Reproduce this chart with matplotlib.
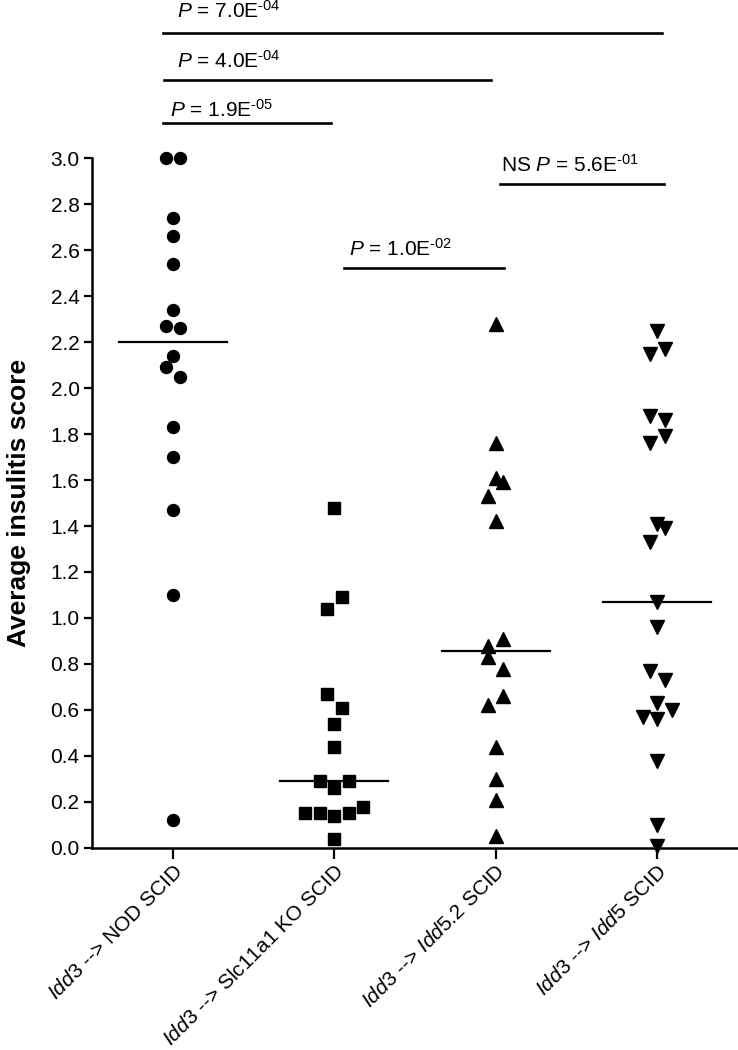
import numpy as np
import matplotlib
matplotlib.use("Agg")
import matplotlib.pyplot as plt

# Fonts (Arial-like)
plt.rcParams['font.family'] = ['Liberation Sans', 'DejaVu Sans']
plt.rcParams['mathtext.fontset'] = 'custom'
plt.rcParams['mathtext.rm'] = 'Liberation Sans'
plt.rcParams['mathtext.it'] = 'Liberation Sans:italic'
plt.rcParams['mathtext.bf'] = 'Liberation Sans:bold'

# ------------------------------------------------
# Data: average insulitis score per mouse
groups = [r"$\it{Idd3}$ --> NOD SCID",
          r"$\it{Idd3}$ --> Slc11a1 KO SCID",
          r"$\it{Idd3}$ --> $\it{Idd5.2}$ SCID",
          r"$\it{Idd3}$ --> $\it{Idd5}$ SCID"]

nod_scid = [3.00, 3.00, 2.74, 2.66, 2.54, 2.34, 2.27, 2.26, 2.14, 2.09, 2.05,
            1.83, 1.70, 1.47, 1.10, 0.12]
slc11a1_ko = [1.48, 1.09, 1.04, 0.67, 0.61, 0.54, 0.44, 0.29, 0.29, 0.26,
              0.15, 0.15, 0.14, 0.15, 0.18, 0.04]
idd52_scid = [2.28, 1.76, 1.61, 1.59, 1.53, 1.42, 0.91, 0.88, 0.83, 0.78,
              0.66, 0.62, 0.44, 0.30, 0.21, 0.05]
idd5_scid = [2.25, 2.17, 2.15, 1.88, 1.86, 1.79, 1.76, 1.41, 1.39, 1.33,
             1.07, 0.96, 0.77, 0.73, 0.63, 0.60, 0.57, 0.56, 0.38, 0.10, 0.01]

# p-value brackets: (from group, to group, label)
comparisons = [(0, 3, r"$\it{P}$ = 7.0E$^{\text{-04}}$"),
               (0, 2, r"$\it{P}$ = 4.0E$^{\text{-04}}$"),
               (0, 1, r"$\it{P}$ = 1.9E$^{\text{-05}}$"),
               (1, 2, r"$\it{P}$ = 1.0E$^{\text{-02}}$"),
               (2, 3, r"NS $\it{P}$ = 5.6E$^{\text{-01}}$")]

# ------------------------------------------------
# Layout / style (scatter jitter like Prism)
all_data = [nod_scid, slc11a1_ko, idd52_scid, idd5_scid]
d = 0.045
jitter = [
    [-d, d, 0, 0, 0, 0, -d, d, 0, -d, d, 0, 0, 0, 0, 0],
    [0, d, -d, -d, d, 0, 0, -2*d, 2*d, 0, -4*d, -2*d, 0, 2*d, 4*d, 0],
    [0, 0, 0, d, -d, 0, d, -d, -d, d, d, -d, 0, 0, 0, 0],
    [0, d, -d, -d, d, d, -d, 0, d, -d, 0, 0, -d, d, 0, 2*d, -2*d, 0, 0, 0, 0],
]
markers = ['o', 's', '^', 'v']
msizes = [8.6, 8.4, 9.6, 9.4]
bar_y = [3.543, 3.339, 3.152, 2.522, 2.887]
bar_x = [(-0.06, 3.03), (-0.055, 1.97), (-0.06, 0.98), (1.06, 2.05), (2.025, 3.04)]
text_pos = [(0.027, 3.61), (0.027, 3.392), (-0.017, 3.18), (1.09, 2.575), (2.03, 2.94)]

fig = plt.figure(figsize=(7.38, 10.5), dpi=100)
ax = fig.add_axes([0.1247, 0.1924, 0.8753, 0.6571])

for i, vals in enumerate(all_data):
    xs = i + np.array(jitter[i])
    ax.plot(xs, vals, linestyle='none', marker=markers[i], ms=msizes[i],
            color='black', mec='black', clip_on=False, zorder=3)
    med = np.median(vals)
    ax.plot([i - 0.335, i + 0.335], [med, med], color='black', lw=1.6, zorder=2)

# significance bars
for k, (a, b, lab) in enumerate(comparisons):
    ax.plot(bar_x[k], [bar_y[k], bar_y[k]], color='black', lw=1.9, clip_on=False)
    ax.text(text_pos[k][0], text_pos[k][1], lab, fontsize=15, ha='left',
            va='baseline', clip_on=False)

ax.set_xlim(-0.5, 3.5)
ax.set_ylim(0, 3.0)
ax.set_yticks(np.arange(0, 3.01, 0.2))
ax.set_yticklabels([f"{v:.1f}" for v in np.arange(0, 3.01, 0.2)], fontsize=15)
ax.set_xticks(range(len(groups)))
ax.set_xticklabels(groups, fontsize=15, rotation=45, ha='right',
                   rotation_mode='anchor')
ax.set_ylabel("Average insulitis score", fontsize=19, fontweight='bold',
              labelpad=14)

for s in ['top', 'right']:
    ax.spines[s].set_visible(False)
for s in ['left', 'bottom']:
    ax.spines[s].set_linewidth(1.8)
ax.tick_params(axis='y', length=6, width=1.6, pad=3)
ax.tick_params(axis='x', length=8, width=1.6, pad=2)

plt.savefig('out.png', dpi=100)
